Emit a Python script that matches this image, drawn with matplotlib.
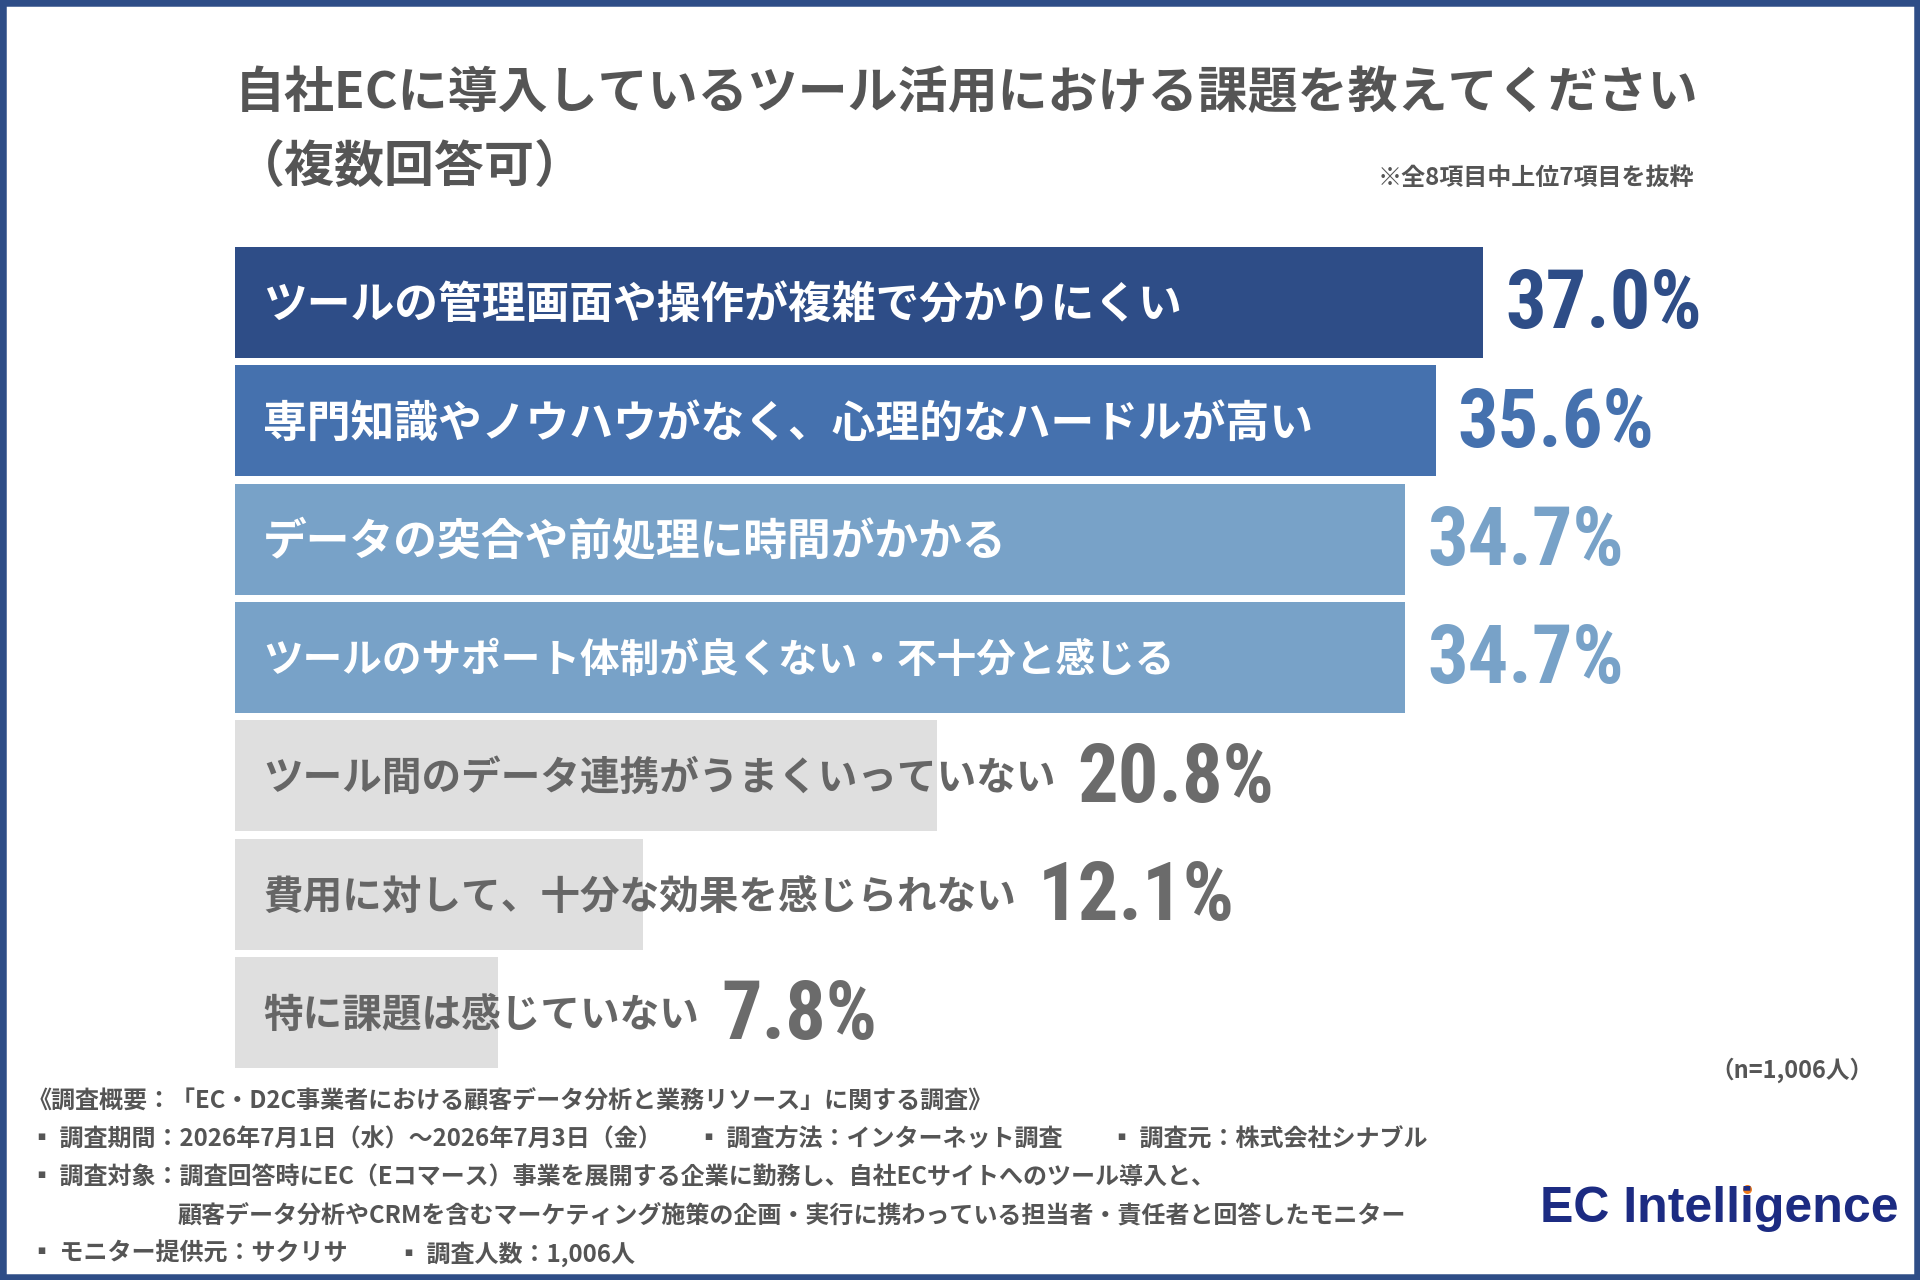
import matplotlib
matplotlib.use("Agg")
import matplotlib.pyplot as plt
from matplotlib import font_manager
from matplotlib.patches import Rectangle
from matplotlib.transforms import ScaledTranslation, IdentityTransform
from matplotlib.lines import Line2D

JP = ['Noto Sans CJK JP', 'DejaVu Sans']
plt.rcParams['font.family'] = JP

# データ
labels = ['ツールの管理画面や操作が複雑で分かりにくい',
          '専門知識やノウハウがなく、心理的なハードルが高い',
          'データの突合や前処理に時間がかかる',
          'ツールのサポート体制が良くない・不十分と感じる',
          'ツール間のデータ連携がうまくいっていない',
          '費用に対して、十分な効果を感じられない',
          '特に課題は感じていない']
values = [37.0, 35.6, 34.7, 34.7, 20.8, 12.1, 7.8]
bar_colors = ['#2e4d87', '#4571ae', '#78a2c8', '#78a2c8', '#dfdfdf', '#dfdfdf', '#dfdfdf']
text_colors = ['white', 'white', 'white', 'white', '#666666', '#666666', '#666666']
label_sizes = [31.5, 31.5, 31.5, 28.5, 28.5, 28.5, 28.5]
value_colors = ['#2e4d87', '#4571ae', '#78a2c8', '#78a2c8', '#6b6b6b', '#6b6b6b', '#6b6b6b']

title1 = '自社ECに導入しているツール活用における課題を教えてください'
title2 = '（複数回答可）'
note = '※全8項目中上位7項目を抜粋'
n_note = '（n=1,006人）'

# 数字用の細めのフォント
num_font = 'DejaVu Sans'
for f in ['Liberation Sans Narrow', 'Roboto Condensed', 'DejaVu Sans Condensed']:
    try:
        font_manager.findfont(f, fallback_to_default=False)
        num_font = f
        break
    except Exception:
        pass

W, H = 1920, 1280
fig = plt.figure(figsize=(W / 100, H / 100), dpi=100)
fig.patch.set_facecolor('white')


def fx(x):
    return x / W


def fy(y):
    return 1 - y / H


# 外枠
fig.patches.append(Rectangle((0, 0), 1, 1, transform=fig.transFigure, fill=False,
                             edgecolor='#2e4d87', linewidth=9))

# タイトル
fig.text(fx(235), fy(93), title1, fontsize=36, fontweight='bold', color='#555555', va='center')
fig.text(fx(235), fy(167), title2, fontsize=36, fontweight='bold', color='#555555', va='center')
fig.text(fx(1694), fy(178), note, fontsize=17.3, fontweight='bold', color='#555555',
         va='center', ha='right')

# 棒グラフ
ax = fig.add_axes([fx(235), fy(1068), fx(1483) - fx(235), (1068 - 247) / H])
ypos = list(range(len(values)))
hh = 0.9375
ax.barh(ypos, values, height=hh, color=bar_colors)
ax.set_xlim(0, max(values))
ax.set_ylim(len(values) - 1 + hh / 2, -hh / 2)
ax.axis('off')

pad = ax.transData + ScaledTranslation(28 / 100, -3 / 100, fig.dpi_scale_trans)
down = ax.transData + ScaledTranslation(0, -4 / 100, fig.dpi_scale_trans)
lab_texts = []
for i, lab in enumerate(labels):
    t = ax.text(0, i, lab, transform=pad, fontsize=label_sizes[i], fontweight='bold',
                color=text_colors[i], va='center', ha='left', clip_on=False)
    lab_texts.append(t)

fig.canvas.draw()
r = fig.canvas.get_renderer()
inv = ax.transData.inverted()
for i, v in enumerate(values):
    text_end = lab_texts[i].get_window_extent(r).x1
    bar_end = ax.transData.transform((v, i))[0]
    xpix = max(text_end, bar_end) + 22
    xd = inv.transform((xpix, 0))[0]
    ax.text(xd, i, f'{v:.1f}%', fontsize=58, fontweight='bold', family=num_font,
            color=value_colors[i], va='center', ha='left', clip_on=False, transform=down)

# 注記・調査概要
fig.text(fx(1873), fy(1070), n_note, fontsize=17, fontweight='bold', color='#555555',
         va='center', ha='right')

foot_kw = dict(fontsize=17.3, fontweight='bold', color='#555555', va='center')
fig.text(fx(28), fy(1102), '《調査概要：「EC・D2C事業者における顧客データ分析と業務リソース」に関する調査》', **foot_kw)
fig.text(fx(30), fy(1140), '▪ 調査期間：2026年7月1日（水）～2026年7月3日（金）', **foot_kw)
fig.text(fx(697), fy(1140), '▪ 調査方法：インターネット調査', **foot_kw)
fig.text(fx(1110), fy(1140), '▪ 調査元：株式会社シナブル', **foot_kw)
fig.text(fx(30), fy(1178), '▪ 調査対象：調査回答時にEC（Eコマース）事業を展開する企業に勤務し、自社ECサイトへのツール導入と、', **foot_kw)
fig.text(fx(178), fy(1216), '顧客データ分析やCRMを含むマーケティング施策の企画・実行に携わっている担当者・責任者と回答したモニター', **foot_kw)
fig.text(fx(30), fy(1254), '▪ モニター提供元：サクリサ', **foot_kw)
fig.text(fx(397), fy(1254), '▪ 調査人数：1,006人', **foot_kw)

# ロゴ
logo_kw = dict(fontsize=36, fontweight='bold', family=['Liberation Sans', 'DejaVu Sans'],
               color='#1c2b82', va='baseline', ha='left')
logo = fig.text(fx(1540), fy(1222), 'EC Intelligence', **logo_kw)
pre = fig.text(fx(1540), fy(1222), 'EC Intell', alpha=0, **logo_kw)
ii = fig.text(fx(1540), fy(1222), 'i', alpha=0, **logo_kw)
fig.canvas.draw()
x0 = logo.get_window_extent(r).x0
w1 = pre.get_window_extent(r).width
wi = ii.get_window_extent(r).width
em = 36 * 100 / 72
dot_x = x0 + w1 + wi / 2
dot_y = H - 1222 + 0.665 * em
fig.add_artist(Line2D([dot_x], [dot_y], marker='o', markersize=6.5, color='#f07a1a',
                      markeredgewidth=0, transform=IdentityTransform()))

fig.savefig('out.png', dpi=100, facecolor='white')
